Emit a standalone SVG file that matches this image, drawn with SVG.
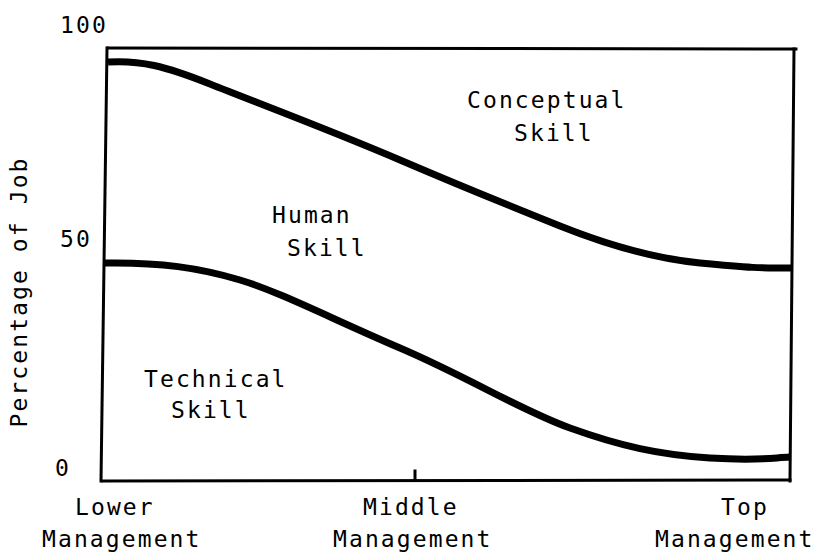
<svg xmlns="http://www.w3.org/2000/svg" width="817" height="555" viewBox="0 0 817 555">
<style>
.t{font-family:"DejaVu Sans Mono","Liberation Mono",monospace;font-size:23px;letter-spacing:2.1px;fill:#000}
.ax{stroke:#000;stroke-width:3;fill:none;stroke-linecap:square}
.cv{stroke:#000;stroke-width:7;fill:none;stroke-linecap:butt}
</style>
<rect width="817" height="555" fill="#fff"/>
<g id="axes">
<line class="ax" x1="108" y1="48" x2="796" y2="49"/>
<line class="ax" x1="107" y1="48" x2="101" y2="481"/>
<line class="ax" x1="794" y1="49" x2="790" y2="481"/>
<line class="ax" x1="103" y1="481" x2="790" y2="480"/>
<line class="ax" x1="415" y1="471" x2="415" y2="480" stroke-width="2"/>
</g>
<g id="curves">
<path class="cv" d="M108,62 C140,60 165,66 210,84 S330,130 400,160 S520,210 560,226 S650,258 700,263 S760,268 792,268"/>
<path class="cv" d="M104,263 C160,262 200,268 240,280 S330,318 400,348 S520,410 570,428 S660,455 710,458 S770,458 790,457"/>
</g>
<g id="y-labels">
<text class="t" x="60" y="33">100</text>
<text class="t" x="60" y="247">50</text>
<text class="t" x="55" y="476">0</text>
<text class="t" transform="translate(27,292) rotate(-90)" text-anchor="middle">Percentage of Job</text>
</g>
<g id="conceptual">
<text class="t" x="467" y="108">Conceptual</text>
<text class="t" x="514" y="141">Skill</text>
</g>
<g id="human">
<text class="t" x="272" y="223">Human</text>
<text class="t" x="287" y="256">Skill</text>
</g>
<g id="technical">
<text class="t" x="144" y="387">Technical</text>
<text class="t" x="171" y="418">Skill</text>
</g>
<g id="x-labels">
<text class="t" x="75" y="515">Lower</text>
<text class="t" x="42" y="547">Management</text>
<text class="t" x="363" y="515">Middle</text>
<text class="t" x="333" y="547">Management</text>
<text class="t" x="721" y="515">Top</text>
<text class="t" x="655" y="547">Management</text>
</g>
</svg>
